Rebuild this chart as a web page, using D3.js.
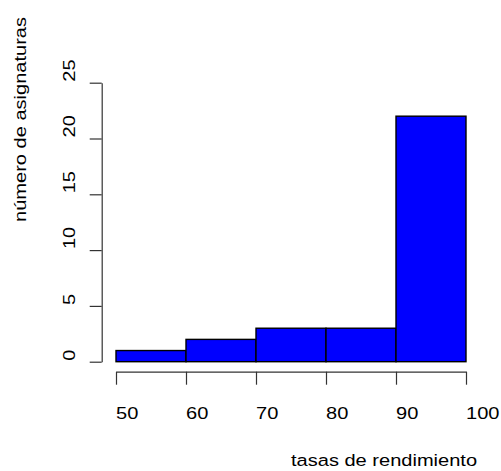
<!DOCTYPE html>
<html><head><meta charset="utf-8">
<script src="https://cdn.jsdelivr.net/npm/d3@7"></script>
<style>
html,body{margin:0;padding:0;background:#fff;}
text{font-family:"Liberation Sans",Arial,sans-serif;font-size:17px;fill:#000;}
</style></head>
<body>
<svg id="c" width="501" height="471"></svg>
<script>
const binStarts = [50, 60, 70, 80, 90];
const binEnds = [60, 70, 80, 90, 100];
const counts = [1, 2, 3, 3, 22];
const xTicks = [50, 60, 70, 80, 90, 100];
const yTicks = [0, 5, 10, 15, 20, 25];
const xTitle = "tasas de rendimiento";
const yTitle = "número de asignaturas";

const stretch = "scale(1.18,1)";
const svg = d3.select("#c");
const x = d3.scaleLinear().domain([50, 100]).range([116, 466]);
const y = d3.scaleLinear().domain([0, 25]).range([361.7, 82.7]);

// bars
svg.append("g").selectAll("rect").data(counts).join("rect")
  .attr("x", (d, i) => x(binStarts[i]))
  .attr("width", (d, i) => x(binEnds[i]) - x(binStarts[i]))
  .attr("y", d => y(d))
  .attr("height", d => y(0) - y(d))
  .attr("fill", "#0000ff")
  .attr("stroke", "#000")
  .attr("stroke-width", 1.4);

// x axis
const gx = svg.append("g").attr("transform", "translate(0,371.7)");
gx.call(d3.axisBottom(x).tickValues(xTicks).tickSize(13).tickSizeOuter(0).tickFormat(""));
gx.select(".domain").attr("stroke", "#333").attr("stroke-width", 1.2);
gx.selectAll(".tick line").attr("stroke", "#333").attr("stroke-width", 1.2);
svg.append("g").selectAll("text").data(xTicks).join("text")
  .attr("transform", d => `translate(${x(d)},418.5) ${stretch}`)
  .attr("text-anchor", "start")
  .text(d => d);

// y axis
const gy = svg.append("g").attr("transform", "translate(101.7,0)");
gy.call(d3.axisLeft(y).tickValues(yTicks).tickSize(12).tickSizeOuter(0).tickFormat(""));
gy.select(".domain").attr("stroke", "#333").attr("stroke-width", 1.2);
gy.selectAll(".tick line").attr("stroke", "#333").attr("stroke-width", 1.2);
svg.append("g").selectAll("text").data(yTicks).join("text")
  .attr("transform", d => `translate(75,${y(d) - 1}) rotate(-90) ${stretch}`)
  .attr("text-anchor", "start")
  .text(d => d);

// titles
svg.append("text").attr("transform", `translate(291,466) ${stretch}`).attr("text-anchor", "start").text(xTitle);
svg.append("text").attr("transform", `translate(26,222) rotate(-90) ${stretch}`).attr("text-anchor", "start").text(yTitle);
</script>
</body></html>
